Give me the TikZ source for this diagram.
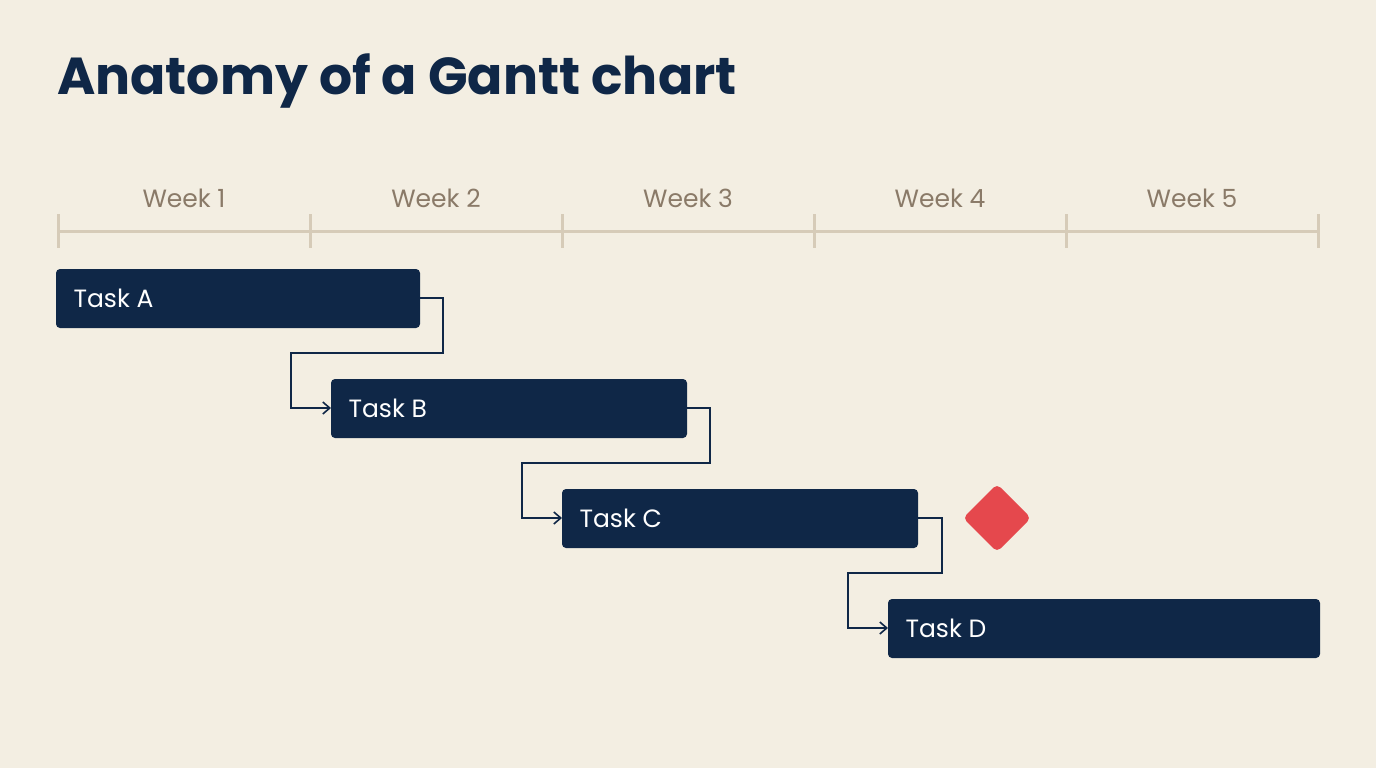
\documentclass[tikz,border=0pt]{standalone}
\usepackage{fontspec}
\setmainfont{Poppins}
\usetikzlibrary{arrows.meta}
\definecolor{bg}{HTML}{F3EEE2}
\definecolor{navy}{HTML}{0F2747}
\definecolor{axis}{HTML}{D6CBB8}
\definecolor{wk}{HTML}{8A7A68}
\definecolor{ms}{HTML}{E5484D}
\tikzset{
 bar/.style={fill=navy,rounded corners=4pt},
 barlabel/.style={text=white,anchor=west,font=\fontsize{25}{25}\selectfont},
 week/.style={text=wk,font=\fontsize{25}{25}\selectfont},
 dep/.style={draw=navy,line width=1.6pt,-{Straight Barb[length=7pt,width=12pt]}},
 tick/.style={draw=axis,line width=3pt}
}
\begin{document}
\begin{tikzpicture}[x=1pt,y=-1pt]
\fill[bg] (0,0) rectangle (1376,768);
\useasboundingbox (0,0) rectangle (1376,768);
\node[anchor=base west,text=navy,inner sep=0,font=\fontsize{52}{52}\selectfont\bfseries] (title) at (57,95) {Anatomy of a Gantt chart};
\draw[tick] (58,231) -- (1318,231);
\foreach \x in {58,310,562,814,1066,1318} \draw[tick] (\x,214) -- (\x,248);
\foreach \i/\x in {1/184,2/436,3/688,4/940,5/1192} \node[week] (w\i) at (\x,198) {Week \i};
\path[bar] (56,269) rectangle (420,328); \node[barlabel] (a) at (70,298) {Task A};
\path[bar] (331,379) rectangle (687,438); \node[barlabel] (b) at (345,408) {Task B};
\path[bar] (562,489) rectangle (918,548); \node[barlabel] (c) at (576,518) {Task C};
\path[bar] (888,599) rectangle (1320,658); \node[barlabel] (d) at (902,628) {Task D};
\coordinate (ae) at (420,298); \coordinate (bs) at (331,408);
\coordinate (be) at (687,408); \coordinate (cs) at (562,518);
\coordinate (ce) at (918,518); \coordinate (ds) at (888,628);
\draw[dep] (ae) -- (443,298) -- (443,353) -- (291,353) -- (291,408) -- (bs);
\draw[dep] (be) -- (710,408) -- (710,463) -- (522,463) -- (522,518) -- (cs);
\draw[dep] (ce) -- (942,518) -- (942,573) -- (848,573) -- (848,628) -- (ds);
\fill[ms,rounded corners=5pt] (997,484) -- (1031,518) -- (997,552) -- (963,518) -- cycle;
\end{tikzpicture}
\end{document}
